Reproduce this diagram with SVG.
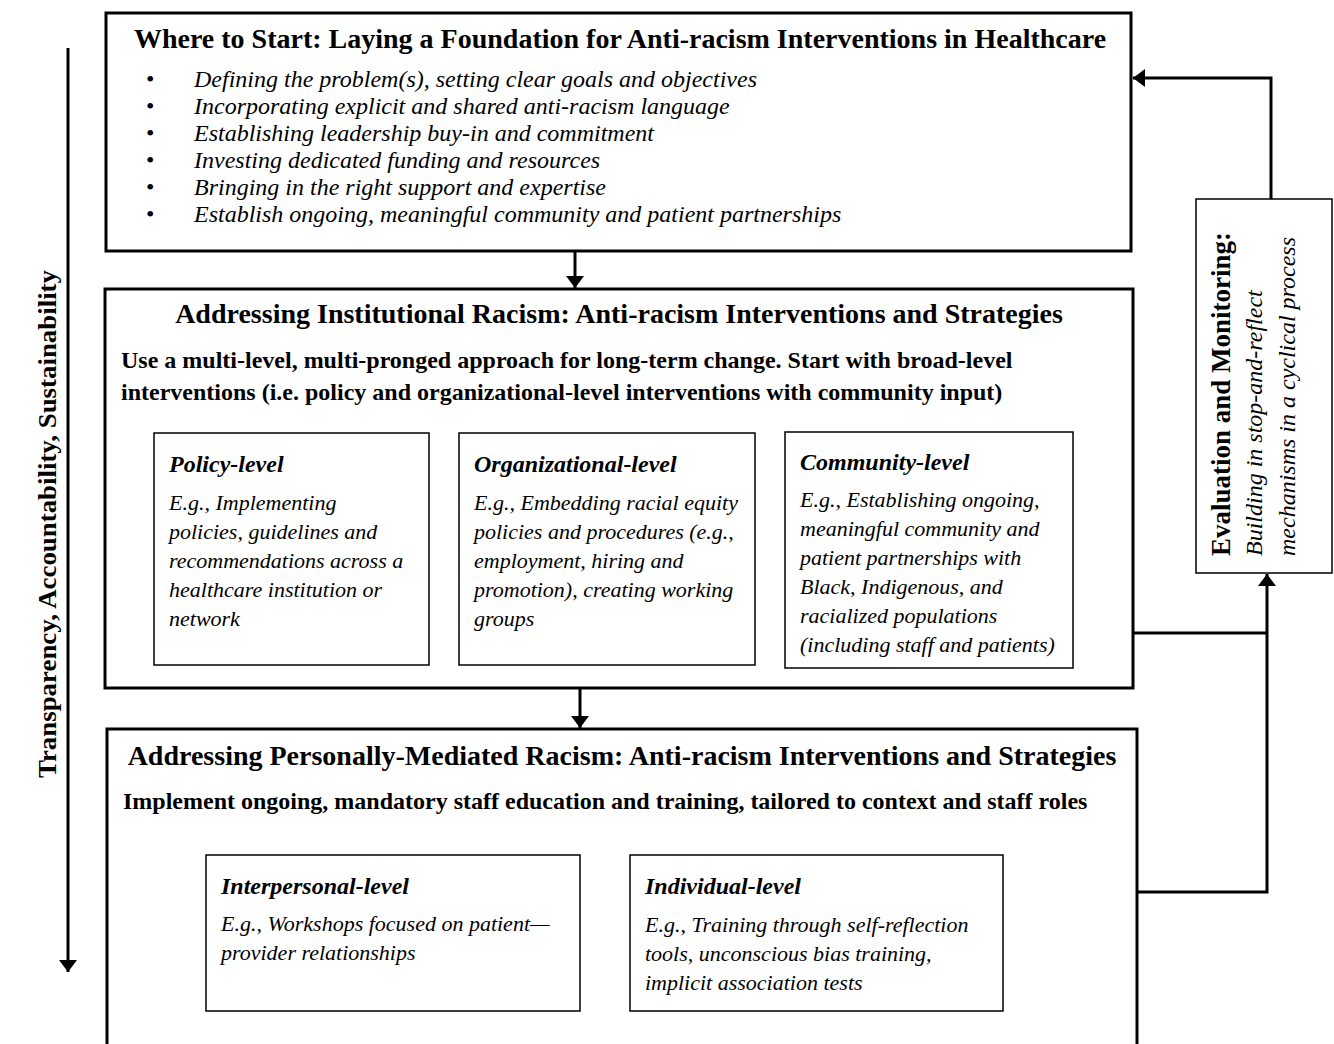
<svg xmlns="http://www.w3.org/2000/svg" width="1334" height="1044" viewBox="0 0 1334 1044">
<style>
text{font-family:"Liberation Serif","Times New Roman",serif;fill:#000}
.h28{font-size:28px;font-weight:bold}
.b24{font-size:24px;font-weight:bold}
.i24{font-size:24px;font-style:italic}
.r24{font-size:24px}
.bi24{font-size:24px;font-weight:bold;font-style:italic}
.i22{font-size:22px;font-style:italic}
.big{fill:#fff;stroke:#000;stroke-width:3}
.sub{fill:#fff;stroke:#000;stroke-width:1.5}
.con{fill:none;stroke:#000;stroke-width:3}
</style>
<defs>
<marker id="ah" viewBox="0 0 12 18" refX="12" refY="9" markerWidth="12" markerHeight="18" markerUnits="userSpaceOnUse" orient="auto">
<path d="M0,0 L12,9 L0,18 Z" fill="#000"/>
</marker>
</defs>

<g id="axis">
<line class="con" x1="68" y1="48" x2="68" y2="972" marker-end="url(#ah)"/>
<text class="h28" style="font-size:26px" transform="translate(56,778) rotate(-90)" x="0" y="0" textLength="508" lengthAdjust="spacingAndGlyphs">Transparency, Accountability, Sustainability</text>
</g>

<g id="foundation">
<rect class="big" x="106" y="13" width="1025" height="238"/>
<text class="h28" x="620" y="48" text-anchor="middle">Where to Start: Laying a Foundation for Anti-racism Interventions in Healthcare</text>
<text class="r24" x="146" y="87">•</text>
<text class="r24" x="146" y="114">•</text>
<text class="r24" x="146" y="141">•</text>
<text class="r24" x="146" y="168">•</text>
<text class="r24" x="146" y="195">•</text>
<text class="r24" x="146" y="222">•</text>
<text class="i24" x="194" y="87">Defining the problem(s), setting clear goals and objectives</text>
<text class="i24" x="194" y="114">Incorporating explicit and shared anti-racism language</text>
<text class="i24" x="194" y="141">Establishing leadership buy-in and commitment</text>
<text class="i24" x="194" y="168">Investing dedicated funding and resources</text>
<text class="i24" x="194" y="195">Bringing in the right support and expertise</text>
<text class="i24" x="194" y="222">Establish ongoing, meaningful community and patient partnerships</text>
</g>

<g id="institutional">
<rect class="big" x="105" y="289" width="1028" height="399"/>
<text class="h28" x="619" y="323" text-anchor="middle">Addressing Institutional Racism: Anti-racism Interventions and Strategies</text>
<text class="b24" x="121" y="368">Use a multi-level, multi-pronged approach for long-term change. Start with broad-level</text>
<text class="b24" x="121" y="400">interventions (i.e. policy and organizational-level interventions with community input)</text>
</g>

<g id="policy">
<rect class="sub" x="154" y="433" width="275" height="232"/>
<text class="bi24" x="169" y="472">Policy-level</text>
<text class="i22" x="169" y="510">E.g., Implementing</text>
<text class="i22" x="169" y="539">policies, guidelines and</text>
<text class="i22" x="169" y="568">recommendations across a</text>
<text class="i22" x="169" y="597">healthcare institution or</text>
<text class="i22" x="169" y="626">network</text>
</g>

<g id="organizational">
<rect class="sub" x="459" y="433" width="296" height="232"/>
<text class="bi24" x="474" y="472">Organizational-level</text>
<text class="i22" x="474" y="510">E.g., Embedding racial equity</text>
<text class="i22" x="474" y="539">policies and procedures (e.g.,</text>
<text class="i22" x="474" y="568">employment, hiring and</text>
<text class="i22" x="474" y="597">promotion), creating working</text>
<text class="i22" x="474" y="626">groups</text>
</g>

<g id="community">
<rect class="sub" x="785" y="432" width="288" height="236"/>
<text class="bi24" x="800" y="470">Community-level</text>
<text class="i22" x="800" y="507">E.g., Establishing ongoing,</text>
<text class="i22" x="800" y="536">meaningful community and</text>
<text class="i22" x="800" y="565">patient partnerships with</text>
<text class="i22" x="800" y="594">Black, Indigenous, and</text>
<text class="i22" x="800" y="623">racialized populations</text>
<text class="i22" x="800" y="652">(including staff and patients)</text>
</g>

<g id="personal">
<rect class="big" x="107" y="729" width="1030" height="340"/>
<text class="h28" x="622" y="765" text-anchor="middle">Addressing Personally-Mediated Racism: Anti-racism Interventions and Strategies</text>
<text class="b24" x="123" y="809">Implement ongoing, mandatory staff education and training, tailored to context and staff roles</text>
</g>

<g id="interpersonal">
<rect class="sub" x="206" y="855" width="374" height="156"/>
<text class="bi24" x="221" y="894">Interpersonal-level</text>
<text class="i22" x="221" y="931">E.g., Workshops focused on patient—</text>
<text class="i22" x="221" y="960">provider relationships</text>
</g>

<g id="individual">
<rect class="sub" x="630" y="855" width="373" height="156"/>
<text class="bi24" x="645" y="894">Individual-level</text>
<text class="i22" x="645" y="932">E.g., Training through self-reflection</text>
<text class="i22" x="645" y="961">tools, unconscious bias training,</text>
<text class="i22" x="645" y="990">implicit association tests</text>
</g>

<g id="evaluation">
<rect class="sub" x="1196" y="199" width="136" height="374"/>
<text class="h28" style="font-size:27px" transform="translate(1230,556) rotate(-90)" x="0" y="0">Evaluation and Monitoring:</text>
<text class="i24" transform="translate(1262,556) rotate(-90)" x="0" y="0">Building in stop-and-reflect</text>
<text class="i24" transform="translate(1295,556) rotate(-90)" x="0" y="0">mechanisms in a cyclical process</text>
</g>

<g id="connectors">
<line class="con" x1="575" y1="252" x2="575" y2="288" marker-end="url(#ah)"/>
<line class="con" x1="580" y1="689" x2="580" y2="728" marker-end="url(#ah)"/>
<path class="con" d="M1271,199 V78 H1133" marker-end="url(#ah)"/>
<path class="con" d="M1134,633 H1267"/>
<path class="con" d="M1138,892 H1267 V574" marker-end="url(#ah)"/>
</g>
</svg>
